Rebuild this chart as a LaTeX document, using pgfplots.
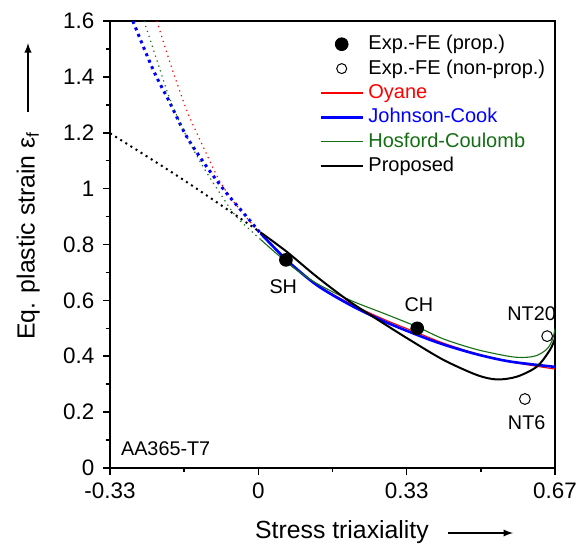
\documentclass[border=0pt]{standalone}
\usepackage{pgfplots}
\pgfplotsset{compat=1.18}
\usepackage{fontspec}
\setmainfont{Liberation Sans}
\definecolor{hcgreen}{RGB}{20,110,20}
\begin{document}
\begin{tikzpicture}
\begin{axis}[
  scale only axis,
  width=222.5pt, height=223.5pt,
  xmin=-0.33333, xmax=0.66667,
  ymin=0, ymax=1.6,
  xtick={-0.33333,0,0.33333,0.66667},
  xticklabels={-0.33,0,0.33,0.67},
  minor xtick={-0.16667,0.16667,0.5},
  ytick={0,0.2,0.4,0.6,0.8,1,1.2,1.4,1.6},
  yticklabels={0,0.2,0.4,0.6,0.8,1,1.2,1.4,1.6},
  minor y tick num=1,
  tick pos=left,
  tick align=outside,
  major tick length=3.5pt,
  minor tick length=2pt,
  axis line style={line width=0.9pt},
  every tick/.style={line width=0.8pt, black},
  /pgf/number format/assume math mode=true,
  tick label style={font=\fontsize{11.2}{13}\selectfont},
  xticklabel style={yshift=-0.3pt},
  yticklabel style={xshift=-0.8pt},
  xlabel={Stress triaxiality},
  xlabel style={at={(axis description cs:0.5213,-0.1435)}, anchor=center, font=\fontsize{12.4}{14}\selectfont},
  ylabel={Eq. plastic strain ε\textsubscript{f}},
  ylabel style={at={(axis description cs:-0.184,0.52)}, anchor=center, font=\fontsize{12.4}{14}\selectfont},
  legend image code/.code={\draw[mark repeat=2,mark phase=2,#1] plot coordinates {(0pt,0pt)(10.5pt,0pt)(21pt,0pt)};},
  legend style={draw=none, fill=none, at={(axis description cs:0.4697,1)}, anchor=north west, yshift=-6.5pt,
    inner sep=0pt, font=\fontsize{10}{12}\selectfont, row sep=2.4pt, column sep=2.2pt,
    nodes={inner sep=0pt, text height=7.6pt, text depth=2.2pt}},
  legend cell align=left,
]
\addlegendimage{only marks, mark=*, mark size=3.2pt, black}
\addlegendentry{Exp.-FE (prop.)}
\addlegendimage{only marks, mark=o, mark size=2.5pt, black, line width=0.5pt}
\addlegendentry{Exp.-FE (non-prop.)}
\addlegendimage{red, line width=0.65pt}
\addlegendentry{\textcolor{red}{Oyane}}
\addlegendimage{blue, line width=1.3pt}
\addlegendentry{\textcolor{blue}{Johnson-Cook}}
\addlegendimage{hcgreen, line width=0.6pt}
\addlegendentry{\textcolor{hcgreen}{Hosford-Coulomb}}
\addlegendimage{black, line width=1pt}
\addlegendentry{Proposed}

% Oyane (red)
\addplot[forget plot, red, line width=0.6pt, dotted, smooth] coordinates {
(-0.228,1.6) (-0.198,1.449) (-0.161,1.281) (-0.124,1.150) (-0.086,1.025) (-0.049,0.940) (0.005,0.838)};
\addplot[forget plot, red, line width=0.55pt, smooth] coordinates {
(0.005,0.838) (0.064,0.745) (0.131,0.657) (0.206,0.589) (0.281,0.533) (0.356,0.485) (0.416,0.447) (0.491,0.409) (0.566,0.380) (0.667,0.354)};
% Johnson-Cook (blue)
\addplot[forget plot, blue, line width=1.5pt, dotted, smooth] coordinates {
(-0.282,1.6) (-0.236,1.424) (-0.198,1.305) (-0.161,1.186) (-0.116,1.078) (-0.071,0.983) (-0.026,0.899) (0.005,0.840)};
\addplot[forget plot, blue, line width=1.3pt, smooth] coordinates {
(0.005,0.840) (0.064,0.744) (0.131,0.655) (0.206,0.584) (0.281,0.526) (0.356,0.477) (0.416,0.442) (0.491,0.407) (0.566,0.381) (0.667,0.362)};
% Hosford-Coulomb (green)
\addplot[forget plot, hcgreen, line width=0.6pt, dotted, smooth] coordinates {
(-0.257,1.6) (-0.228,1.460) (-0.198,1.317) (-0.161,1.186) (-0.124,1.078) (-0.086,0.983) (-0.049,0.899) (0.005,0.818)};
\addplot[forget plot, hcgreen, line width=0.55pt, smooth] coordinates {
(0.005,0.818) (0.071,0.727) (0.131,0.661) (0.206,0.601) (0.281,0.554) (0.356,0.506) (0.416,0.462) (0.491,0.424) (0.566,0.399) (0.600,0.396) (0.626,0.403) (0.648,0.425) (0.660,0.455) (0.667,0.500)};
% Proposed (black)
\addplot[forget plot, black, line width=1pt, dotted, smooth] coordinates {
(-0.333,1.198) (-0.25,1.115) (-0.167,1.030) (-0.083,0.940) (0.008,0.840)};
\addplot[forget plot, black, line width=1pt, smooth] coordinates {
(0.008,0.840) (0.064,0.774) (0.131,0.685) (0.206,0.595) (0.281,0.518) (0.341,0.458) (0.416,0.387) (0.491,0.333) (0.536,0.317) (0.581,0.327) (0.626,0.363) (0.655,0.422) (0.667,0.464)};

% Experimental points
\addplot[forget plot, only marks, mark=*, mark size=3.2pt, black] coordinates {(0.062,0.745) (0.357,0.500)};
\addplot[forget plot, only marks, mark=o, mark size=2.7pt, black, line width=0.5pt] coordinates {(0.649,0.472) (0.599,0.247)};

\node[font=\fontsize{9.9}{11}\selectfont] at (axis cs:0.056,0.649) {SH};
\node[font=\fontsize{9.9}{11}\selectfont] at (axis cs:0.361,0.583) {CH};
\node[font=\fontsize{9.9}{11}\selectfont] at (axis cs:0.614,0.554) {NT20};
\node[font=\fontsize{9.9}{11}\selectfont] at (axis cs:0.603,0.161) {NT6};
\node[font=\fontsize{9.9}{11}\selectfont, anchor=west, inner sep=0pt] at (axis description cs:0.024,0.044) {AA365-T7};
\end{axis}
\draw[-latex, line width=0.65pt] (-41pt,178pt) -- (-41pt,212.5pt);
\draw[-latex, line width=0.65pt] (169pt,-32.5pt) -- (201.5pt,-32.5pt);
\pgfresetboundingbox
\path[use as bounding box] (-55pt,-40pt) rectangle (238.5pt,234pt);
\end{tikzpicture}
\end{document}
